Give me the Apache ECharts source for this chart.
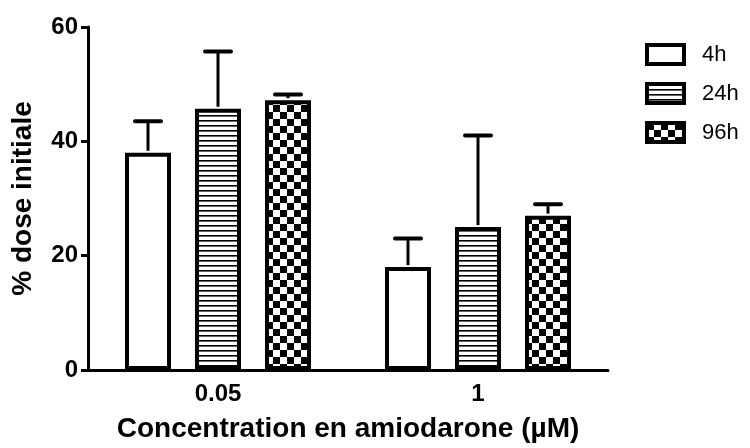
<!DOCTYPE html>
<html><head><meta charset="utf-8">
<script src="https://cdn.jsdelivr.net/npm/echarts@6/dist/echarts.min.js"></script>
<style>html,body{margin:0;padding:0;background:#fff}#c{width:750px;height:448px}</style>
</head><body><div id="c"></div>
<script>
var categories = ['0.05', '1'];
var seriesNames = ['4h', '24h', '96h'];
var means4h = [38, 18];
var means24h = [45.7, 25];
var means96h = [47.2, 27];
var upper4h = [43.5, 23];
var upper24h = [55.7, 41];
var upper96h = [48.2, 29];
var yTicks = [0, 20, 40, 60];

var FONT = 'Arial, "Liberation Sans", sans-serif';

function hlines() {
  var c = document.createElement('canvas'); c.width = 10; c.height = 5;
  var g = c.getContext('2d'); g.fillStyle = '#fff'; g.fillRect(0,0,10,5);
  g.fillStyle = '#000'; g.fillRect(0,0,10,1.6); return c;
}
function checker() {
  var s = 7;
  var c = document.createElement('canvas'); c.width = 2*s; c.height = 2*s;
  var g = c.getContext('2d'); g.fillStyle = '#fff'; g.fillRect(0,0,2*s,2*s);
  g.fillStyle = '#000'; g.fillRect(0,0,s,s); g.fillRect(s,s,s,s); return c;
}
var fills = ['#ffffff', {image: hlines(), repeat: 'repeat'}, {image: checker(), repeat: 'repeat'}];
var means = [means4h, means24h, means96h];
var uppers = [upper4h, upper24h, upper96h];

var BAR_W = 46, STEP = 70;
var series = [];
seriesNames.forEach(function (name, i) {
  series.push({
    name: name, type: 'bar', data: means[i], barWidth: BAR_W, barGap: ((STEP - BAR_W) / BAR_W * 100) + '%',
    itemStyle: {color: fills[i], borderColor: '#000', borderWidth: 4},
    emphasis: {disabled: true}, z: 2
  });
});
seriesNames.forEach(function (name, i) {
  series.push({
    type: 'custom', name: name + ' err',
    data: means[i].map(function (m, k) { return [k, m, uppers[i][k]]; }),
    encode: {x: 0, y: [1, 2]}, z: 3, silent: true,
    renderItem: function (params, api) {
      var k = api.value(0);
      var p0 = api.coord([k, api.value(1)]);
      var p1 = api.coord([k, api.value(2)]);
      var x = p0[0] + (i - 1) * STEP;
      return {type: 'group', children: [
        {type: 'line', shape: {x1: x, y1: p0[1] - 2, x2: x, y2: p1[1]}, style: {stroke: '#000', lineWidth: 3}},
        {type: 'line', shape: {x1: x - 13, y1: p1[1], x2: x + 13, y2: p1[1]}, style: {stroke: '#000', lineWidth: 4, lineCap: 'round'}}
      ]};
    }
  });
});

var chart = echarts.init(document.getElementById('c'));
chart.setOption({
  animation: false,
  grid: {left: 88, right: 142, top: 27, bottom: 76},
  legend: {
    orient: 'vertical', left: 640, top: 38, itemWidth: 37, itemHeight: 19, itemGap: 16,
    data: seriesNames, icon: 'rect',
    textStyle: {fontFamily: FONT, fontSize: 22, lineHeight: 23, color: '#000', padding: [0, 0, 0, 13]},
    itemStyle: {borderColor: '#000', borderWidth: 4}
  },
  xAxis: {
    type: 'category', data: categories,
    name: 'Concentration en amiodarone (µM)', nameLocation: 'middle', nameGap: 45,
    nameTextStyle: {fontFamily: FONT, fontSize: 28, fontWeight: 'bold', color: '#000'},
    axisLine: {lineStyle: {color: '#000', width: 3}},
    axisTick: {alignWithLabel: true, length: 7, lineStyle: {color: '#000', width: 3}},
    axisLabel: {fontFamily: FONT, fontSize: 24, fontWeight: 'bold', color: '#000', margin: 12}
  },
  yAxis: {
    type: 'value', min: yTicks[0], max: yTicks[yTicks.length - 1], interval: yTicks[1] - yTicks[0],
    name: '% dose initiale', nameLocation: 'middle', nameGap: 51, nameRotate: 90,
    nameTextStyle: {fontFamily: FONT, fontSize: 28, fontWeight: 'bold', color: '#000'},
    axisLine: {show: true, lineStyle: {color: '#000', width: 3}},
    axisTick: {show: true, length: 7, lineStyle: {color: '#000', width: 3}},
    splitLine: {show: false},
    axisLabel: {fontFamily: FONT, fontSize: 24, fontWeight: 'bold', color: '#000', margin: 10}
  },
  series: series
});
</script></body></html>
